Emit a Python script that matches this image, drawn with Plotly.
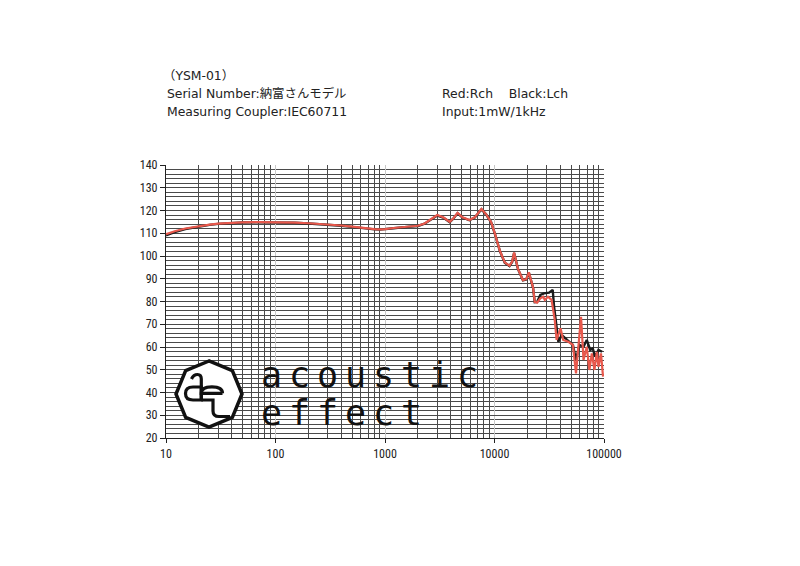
import math
import plotly.graph_objects as go

# ---------------- data ----------------
freq_r = [10, 12, 15, 20, 25, 30, 40, 50, 70, 100, 150, 200, 300, 400, 500, 600, 700, 800, 900,
          1000, 1200, 1500, 2000, 2300, 2600, 3000, 3400, 3900, 4200, 4600, 5100, 5900, 6600,
          7600, 8400, 9300, 10100, 11200, 12400, 13700, 14500, 15100, 16400, 18200, 19500,
          20600, 22500, 23300, 24500, 26200, 27900, 28800, 30800, 33200, 35500, 36900, 40100,
          42400, 47200, 52000, 55500, 58300, 61700, 65000, 69600, 73500, 77400, 81800, 86000,
          89000, 93800, 98000]
spl_r = [109.6, 110.9, 112.1, 113.2, 113.8, 114.2, 114.6, 114.8, 114.9, 114.9, 114.7, 114.4,
         113.9, 113.4, 112.9, 112.4, 112.0, 111.8, 111.7, 111.8, 112.3, 112.8, 113.3, 114.3,
         116.0, 118.0, 117.0, 115.0, 116.5, 119.0, 117.0, 115.8, 117.0, 120.7, 118.3, 115.0,
         109.7, 102.3, 97.2, 95.7, 97.5, 101.5, 94.3, 89.4, 89.8, 92.8, 86.2, 79.8, 79.5,
         81.4, 82.1, 80.7, 82.1, 80.7, 71.9, 63.1, 68.2, 63.1, 62.3, 60.9, 48.4, 58.7, 73.3,
         54.3, 60.1, 49.9, 57.2, 49.9, 57.9, 51.3, 57.2, 47.0]

freq_l = [10, 12, 15, 20, 25, 30, 40, 50, 70, 100, 150, 200, 300, 400, 500, 600, 700, 800, 900,
          1000, 1200, 1500, 2000, 2300, 2600, 3000, 3400, 3900, 4200, 4600, 5100, 5900, 6600,
          7600, 8400, 9300, 10100, 11200, 12400, 13700, 14500, 15100, 16400, 18200, 19500,
          20600, 22500, 23300, 24500, 26200, 28300, 31500, 34000, 35000, 38300, 41100, 46000,
          52000, 55500, 59600, 65000, 69600, 74800, 78900, 83000, 89000, 96000]
spl_l = [109.1, 110.5, 111.8, 113.0, 113.7, 114.1, 114.5, 114.7, 114.8, 114.8, 114.6, 114.3,
         113.8, 113.3, 112.8, 112.3, 111.9, 111.7, 111.6, 111.7, 112.2, 112.7, 113.2, 114.2,
         115.9, 117.8, 116.9, 114.9, 116.4, 118.8, 116.9, 115.7, 116.9, 120.5, 118.2, 114.9,
         109.6, 102.2, 97.1, 95.6, 97.4, 101.3, 94.2, 89.3, 89.7, 92.6, 86.1, 79.7, 79.8,
         82.9, 83.6, 83.9, 85.1, 77.7, 62.3, 65.3, 63.1, 60.9, 54.3, 60.9, 60.1, 63.1, 58.7,
         59.4, 55.7, 58.7, 57.9]

x_major = [10, 100, 1000, 10000, 100000]
x_major_text = ["10", "100", "1000", "10000", "100000"]
x_minor = [m * d for d in [10, 100, 1000, 10000] for m in range(2, 10)]
y_ticks = list(range(20, 141, 10))

header_left = ["（YSM-01）", "Serial Number:納富さんモデル", "Measuring Coupler:IEC60711"]
header_right = ["Red:Rch&nbsp;&nbsp;&nbsp;&nbsp;Black:Lch", "Input:1mW/1kHz"]
logo_row1 = "acoustic"
logo_row2 = "effect"

# ---------------- layout helpers (page pixel -> paper) ----------------
PAGE_OFF = 8                      # default body margin of the html page
PL, PT = 166, 165                 # plot area top-left on the page
PW, PH = 438, 273                 # plot area size
W, H = 800 - PAGE_OFF, 566 - PAGE_OFF
L, T = PL - PAGE_OFF, PT - PAGE_OFF
R, B = W - L - PW, H - T - PH


def X(px):
    return (px - PL) / PW


def Y(py):
    return (PT + PH - py) / PH


def path(cmds):
    out = []
    for c in cmds:
        if isinstance(c, str):
            out.append(c)
        else:
            out.append(f"{X(c[0]):.5f},{Y(c[1]):.5f}")
    return " ".join(out)


fig = go.Figure()
fig.add_trace(go.Scatter(x=freq_l, y=spl_l, mode="lines", name="Lch",
                         line=dict(color="#1a1a1a", width=2.4), hoverinfo="skip"))
fig.add_trace(go.Scatter(x=freq_r, y=spl_r, mode="lines", name="Rch",
                         line=dict(color="#e8584c", width=2.2), hoverinfo="skip"))

tick_font = dict(family="Liberation Sans Narrow, Roboto Condensed, DejaVu Sans Condensed, Arial Narrow, sans-serif",
                 size=12, color="#222")

fig.update_layout(
    width=W, height=H, margin=dict(l=L, r=R, t=T, b=B, autoexpand=False),
    paper_bgcolor="white", plot_bgcolor="white", showlegend=False,
    xaxis=dict(type="log", range=[1, 5], tickmode="array", tickvals=x_major, ticktext=x_major_text,
               showgrid=True, gridcolor="#c8c8c8", gridwidth=1,
               minor=dict(tickmode="array", tickvals=x_minor, showgrid=True, gridcolor="#4a4a4a", gridwidth=1,
                          ticks=""),
               ticks="outside", ticklen=4, tickcolor="#222", showline=True, linecolor="#222", linewidth=1.2,
               tickfont=tick_font, zeroline=False, fixedrange=True),
    yaxis=dict(range=[20, 140], tickmode="array", tickvals=y_ticks,
               showgrid=True, gridcolor="#4a4a4a", gridwidth=1,
               minor=dict(dtick=2, showgrid=True, gridcolor="#4a4a4a", gridwidth=1, ticks=""),
               ticks="outside", ticklen=5, tickcolor="#222", showline=True, linecolor="#222", linewidth=1.2,
               tickfont=tick_font, zeroline=False, fixedrange=True),
)

# ---------------- header text ----------------
hfont = dict(family="DejaVu Sans, Noto Sans CJK JP, sans-serif", size=12.4, color="#222")
for i, t in enumerate(header_left):
    fig.add_annotation(text=t, xref="paper", yref="paper", x=X(165 if i else 161), y=Y(75 + 18 * i),
                       xanchor="left", yanchor="middle", showarrow=False, font=hfont)
for i, t in enumerate(header_right):
    fig.add_annotation(text=t, xref="paper", yref="paper", x=X(440), y=Y(93 + 18 * i),
                       xanchor="left", yanchor="middle", showarrow=False, font=hfont)

# ---------------- logo ----------------
cx, cy, r = 209, 394, 33
pts = []
for k in range(8):
    a = math.radians(90 + 45 * k)
    pts.append((cx + r * math.cos(a), cy - r * math.sin(a)))
oct_path = "M " + " L ".join(f"{X(px):.5f},{Y(py):.5f}" for px, py in pts) + " Z"
fig.add_shape(type="path", xref="paper", yref="paper", path=oct_path,
              line=dict(color="#111", width=3.5), fillcolor="white", layer="above")

stroke = dict(color="#111", width=3.2)
# "a" bowl (rounded)
a_bowl = path(["M", (193, 387), "L", (201.3, 387), "L", (201.3, 400), "L", (193, 400),
               "Q", (185.5, 400), (185.5, 393.5), "Q", (185.5, 387), (193, 387), "Z"])
fig.add_shape(type="path", xref="paper", yref="paper", path=a_bowl, line=stroke, layer="above")
# "a" stem + hook
a_stem = path(["M", (191.5, 379), "Q", (193.5, 374.5), (197.5, 374.5),
               "Q", (201.3, 374.5), (201.3, 379), "L", (201.3, 400)])
fig.add_shape(type="path", xref="paper", yref="paper", path=a_stem, line=stroke, layer="above")
# "e" upper bowl with bar
e_top = path(["M", (222.5, 393.3), "L", (201.3, 393.3), "Q", (201.3, 386.8), (211.9, 386.8),
              "Q", (222.5, 386.8), (222.5, 393.3)])
fig.add_shape(type="path", xref="paper", yref="paper", path=e_top, line=stroke, layer="above")
# "e" tail
e_tail = path(["M", (201.3, 400), "L", (213, 400), "L", (213, 411), "Q", (213, 416.5), (219, 416.5),
               "L", (230, 416.5)])
fig.add_shape(type="path", xref="paper", yref="paper", path=e_tail, line=stroke, layer="above")

lfont = dict(family="DejaVu Sans Mono, monospace", size=35, color="#111")
for i, ch in enumerate(logo_row1):
    fig.add_annotation(text=ch, xref="paper", yref="paper", x=X(271.7 + 28 * i), y=Y(374.5),
                       xanchor="center", yanchor="middle", showarrow=False, font=lfont)
for i, ch in enumerate(logo_row2):
    fig.add_annotation(text=ch, xref="paper", yref="paper", x=X(271.0 + 28 * i), y=Y(412.5),
                       xanchor="center", yanchor="middle", showarrow=False, font=lfont)

fig.write_html("out.html")
